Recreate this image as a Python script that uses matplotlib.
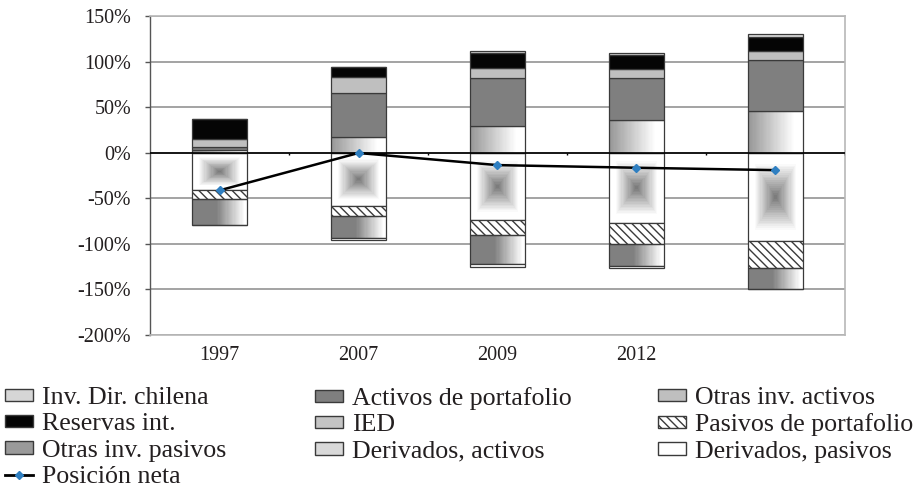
import numpy as np
import matplotlib
matplotlib.use("Agg")
import matplotlib.pyplot as plt
from matplotlib.patches import Patch
from matplotlib.lines import Line2D
from matplotlib.ticker import FuncFormatter

plt.rcParams['font.family'] = ['Liberation Serif', 'DejaVu Serif']

# categorias (la quinta sin etiqueta en el original)
years = ['1997', '2007', '2009', '2012', '']

# activos (positivos, de abajo hacia arriba)
inv_dir_chilena = [3.5, 17.5, 29.2, 36.2, 45.6]
activos_port = [2.5, 48.3, 52.3, 46.0, 55.6]
otras_activos = [9.0, 17.5, 11.7, 9.9, 10.2]
reservas = [22.5, 11.0, 16.4, 14.9, 15.4]
deriv_activos = [0.0, 0.0, 1.8, 1.9, 3.5]

# pasivos (negativos, de 0 hacia abajo)
ied = [-41.0, -58.1, -74.2, -76.8, -96.9]
pasivos_port = [-10.2, -11.4, -16.5, -23.7, -29.2]
otras_pasivos = [-28.2, -24.5, -31.8, -23.8, -23.0]
deriv_pasivos = [0.0, -1.8, -2.5, -2.2, -0.5]

posicion_neta = [-41.3, -0.3, -13.6, -16.5, -19.1]

x = np.arange(len(years))
w = 0.40
edge = '#3a3a3a'
txt = '#231F20'


def gradient_values(kind, n=48):
    c = (np.arange(n) + 0.5) / n
    u, v = np.meshgrid(c, c)
    if kind == 'sq':
        d = np.maximum(np.abs(2 * u - 1), np.abs(2 * v - 1))
        g = 0.47 + 0.7 * d
    elif kind == 'h':
        g = 0.58 + 0.5 * u
    else:
        g = np.where(u < 0.45, 0.5, 0.5 + (u - 0.45) / 0.5 * 0.5)
    return np.clip(g, 0, 1)


def fill_gradient(ax, bars, kind):
    # relleno degradado dentro del rectangulo de cada barra
    vals = gradient_values(kind)
    for p in bars:
        x0, y0 = p.get_xy()
        h = p.get_height()
        if abs(h) < 1e-6:
            continue
        xs = np.linspace(x0, x0 + p.get_width(), vals.shape[1] + 1)
        ys = np.linspace(y0, y0 + h, vals.shape[0] + 1)
        ax.pcolormesh(xs, ys, vals, cmap='gray', vmin=0, vmax=1,
                      shading='flat', antialiased=False, linewidth=0, zorder=2)


fig, ax = plt.subplots(figsize=(9.23, 4.93), dpi=100)
fig.subplots_adjust(left=150/923, right=845/923, top=1-16/493, bottom=1-335/493)

bar_kw = dict(width=w, edgecolor=edge, linewidth=0.9, zorder=3)
plt.rcParams['hatch.color'] = '#5a5a5a'
plt.rcParams['hatch.linewidth'] = 1.0

# positivos
bottom = np.zeros(len(x))
b_idc = ax.bar(x, inv_dir_chilena, bottom=bottom.copy(), facecolor='none', **bar_kw)
fill_gradient(ax, b_idc, 'h')
bottom = bottom + inv_dir_chilena
ax.bar(x, activos_port, bottom=bottom, facecolor='#7f7f7f', **bar_kw)
bottom = bottom + activos_port
ax.bar(x, otras_activos, bottom=bottom, facecolor='#bfbfbf', **bar_kw)
bottom = bottom + otras_activos
ax.bar(x, reservas, bottom=bottom, facecolor='#050505', **bar_kw)
bottom = bottom + reservas
ax.bar(x, deriv_activos, bottom=bottom, facecolor='#d9d9d9', **bar_kw)

# negativos
bottom = np.zeros(len(x))
b_ied = ax.bar(x, ied, bottom=bottom.copy(), facecolor='none', **bar_kw)
fill_gradient(ax, b_ied, 'sq')
bottom = bottom + ied
ax.bar(x, pasivos_port, bottom=bottom, facecolor='white', hatch='\\\\\\\\', **bar_kw)
bottom = bottom + pasivos_port
b_oip = ax.bar(x, otras_pasivos, bottom=bottom, facecolor='none', **bar_kw)
fill_gradient(ax, b_oip, 'h2')
bottom = bottom + otras_pasivos
ax.bar(x, deriv_pasivos, bottom=bottom, facecolor='white', **bar_kw)

# posicion neta
ax.plot(x, posicion_neta, color='black', lw=1.8, marker='D', markersize=4.5,
        markerfacecolor='#2f7fc1', markeredgecolor='#2f7fc1', zorder=5)

# ejes
ax.set_xlim(-0.5, len(x) - 0.5)
ax.set_ylim(-200, 150)
ax.set_yticks(np.arange(-200, 151, 50))
ax.yaxis.set_major_formatter(FuncFormatter(lambda v, p: f"{int(v)}%"))
ax.set_xticks(x)
ax.set_xticklabels(years)
ax.tick_params(axis='x', length=0, pad=8, labelsize=14.5, labelcolor=txt)
ax.tick_params(axis='y', length=3.5, width=1, color='#555555', pad=10,
               labelsize=14.5, labelcolor=txt)
ax.grid(axis='y', color='#8a8a8a', lw=1.1, zorder=0)
ax.set_axisbelow(True)
for s in ['top', 'right', 'bottom']:
    ax.spines[s].set_color('#b8b8b8')
    ax.spines[s].set_linewidth(1.2)
ax.spines['left'].set_color('#555555')
ax.spines['left'].set_linewidth(1.0)

# eje de categorias en 0 con marcas entre categorias
ax.axhline(0, color='black', lw=1.2, zorder=4)
ax.vlines(np.arange(len(x)) + 0.5, -2.5, 0, color='black', lw=1, zorder=4)

# leyenda en tres columnas
fs = 18.6
col1 = [
    (Patch(facecolor='#d6d6d6', edgecolor=edge), 'Inv. Dir. chilena'),
    (Patch(facecolor='#050505', edgecolor=edge), 'Reservas int.'),
    (Patch(facecolor='#9a9a9a', edgecolor=edge), 'Otras inv. pasivos'),
    (Line2D([], [], color='black', lw=2, marker='D', markersize=4.5,
            markerfacecolor='#2f7fc1', markeredgecolor='#2f7fc1'), 'Posición neta'),
]
col2 = [
    (Patch(facecolor='#7f7f7f', edgecolor=edge), 'Activos de portafolio'),
    (Patch(facecolor='#c4c4c4', edgecolor=edge), 'IED'),
    (Patch(facecolor='#d9d9d9', edgecolor=edge), 'Derivados, activos'),
]
col3 = [
    (Patch(facecolor='#bfbfbf', edgecolor=edge), 'Otras inv. activos'),
    (Patch(facecolor='white', edgecolor=edge, hatch='\\\\\\\\'), 'Pasivos de portafolio'),
    (Patch(facecolor='white', edgecolor=edge), 'Derivados, pasivos'),
]

for items, xpos in [(col1, 5), (col2, 315), (col3, 658)]:
    fig.legend([h for h, _ in items], [l for _, l in items],
               loc='upper left', bbox_to_anchor=(xpos/923, 1-387/493),
               frameon=False, fontsize=fs, borderpad=0, borderaxespad=0,
               labelspacing=0.17, handlelength=1.1, handleheight=0.35,
               handletextpad=0.35, labelcolor=txt)

fig.savefig('out.png', dpi=100)
